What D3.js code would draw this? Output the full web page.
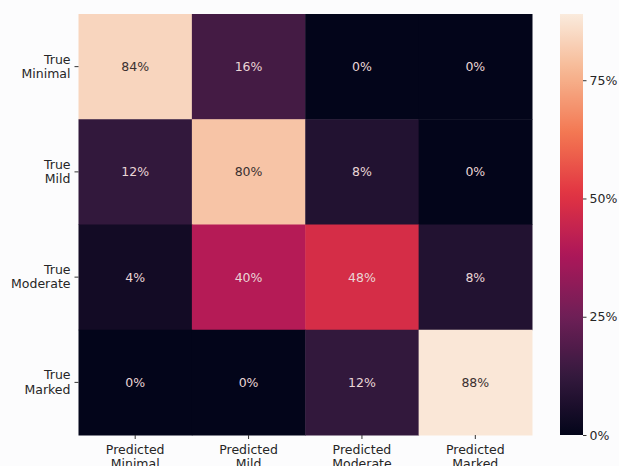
<!DOCTYPE html>
<html>
<head>
<meta charset="utf-8">
<script src="https://cdn.jsdelivr.net/npm/d3@7"></script>
<style>
  html, body { margin: 0; padding: 0; background: #fcfcfd; }
  svg { display: block; }
  text { font-family: "DejaVu Sans", sans-serif; }
</style>
</head>
<body>
<svg id="chart" width="619" height="466"></svg>
<script>
// ---- data ----
const rowLabels = [["True", "Minimal"], ["True", "Mild"], ["True", "Moderate"], ["True", "Marked"]];
const colLabels = [["Predicted", "Minimal"], ["Predicted", "Mild"], ["Predicted", "Moderate"], ["Predicted", "Marked"]];
const rowMinimal  = [0.84, 0.16, 0.00, 0.00];
const rowMild     = [0.12, 0.80, 0.08, 0.00];
const rowModerate = [0.04, 0.40, 0.48, 0.08];
const rowMarked   = [0.00, 0.00, 0.12, 0.88];
const matrix = [rowMinimal, rowMild, rowModerate, rowMarked];
const colorbarTicks = [0, 0.25, 0.5, 0.75];
const colorMax = 0.89;

// rocket colormap samples
const rocketStops = ["#03051a", "#35193e", "#701f57", "#ad1759", "#e13342", "#f37651", "#f6b48f", "#faebdd"];
const rocket = d3.piecewise(d3.interpolateRgb, rocketStops);

const svg = d3.select("#chart");
const mLeft = 78.5, mRight = 532, mTop = 14, mBottom = 435;

const x = d3.scaleBand().domain(d3.range(4)).range([mLeft, mRight]).padding(0);
const y = d3.scaleBand().domain(d3.range(4)).range([mTop, mBottom]).padding(0);
const color = d3.scaleSequential(rocket).domain([0, colorMax]);

const cells = [];
matrix.forEach((row, i) => row.forEach((v, j) => cells.push({i, j, v})));

svg.append("g").selectAll("rect").data(cells).join("rect")
  .attr("x", d => x(d.j)).attr("y", d => y(d.i))
  .attr("width", x.bandwidth() + 0.5).attr("height", y.bandwidth() + 0.5)
  .attr("fill", d => color(d.v));

function lum(c) {
  const r = d3.rgb(c);
  const f = v => { v /= 255; return v <= 0.03928 ? v / 12.92 : Math.pow((v + 0.055) / 1.055, 2.4); };
  return 0.2126 * f(r.r) + 0.7152 * f(r.g) + 0.0722 * f(r.b);
}

svg.append("g").selectAll("text").data(cells).join("text")
  .attr("x", d => x(d.j) + x.bandwidth() / 2)
  .attr("y", d => y(d.i) + y.bandwidth() / 2)
  .attr("text-anchor", "middle").attr("dominant-baseline", "central")
  .attr("font-size", "12.5px")
  .attr("fill", d => lum(color(d.v)) > 0.408 ? "#3a3030" : "#ead6d6")
  .text(d => d3.format(".0%")(d.v));

// y axis
const yAxis = svg.append("g");
rowLabels.forEach((lab, i) => {
  const cy = y(i) + y.bandwidth() / 2;
  yAxis.append("line").attr("x1", mLeft - 4).attr("x2", mLeft).attr("y1", cy).attr("y2", cy)
    .attr("stroke", "#333").attr("stroke-width", 1);
  const t = yAxis.append("text").attr("x", mLeft - 8).attr("y", cy)
    .attr("text-anchor", "end").attr("font-size", "12.5px").attr("fill", "#262626");
  t.append("tspan").attr("x", mLeft - 8).attr("dy", "-0.25em").text(lab[0]);
  t.append("tspan").attr("x", mLeft - 8).attr("dy", "1.15em").text(lab[1]);
});

// x axis
const xAxis = svg.append("g");
colLabels.forEach((lab, j) => {
  const cx = x(j) + x.bandwidth() / 2;
  xAxis.append("line").attr("x1", cx).attr("x2", cx).attr("y1", mBottom).attr("y2", mBottom + 4)
    .attr("stroke", "#333").attr("stroke-width", 1);
  const t = xAxis.append("text").attr("x", cx).attr("y", mBottom + 19)
    .attr("text-anchor", "middle").attr("font-size", "12.5px").attr("fill", "#262626");
  t.append("tspan").attr("x", cx).text(lab[0]);
  t.append("tspan").attr("x", cx).attr("dy", "1.15em").text(lab[1]);
});

// colorbar
const cbX = 560, cbW = 23;
const cbScale = d3.scaleLinear().domain([0, colorMax]).range([mBottom, mTop]);
const defs = svg.append("defs");
const grad = defs.append("linearGradient").attr("id", "cbgrad")
  .attr("x1", 0).attr("y1", 1).attr("x2", 0).attr("y2", 0);
d3.range(0, 1.0001, 0.02).forEach(t => {
  grad.append("stop").attr("offset", t).attr("stop-color", color(t * colorMax));
});
svg.append("rect").attr("x", cbX).attr("y", mTop).attr("width", cbW).attr("height", mBottom - mTop)
  .attr("fill", "url(#cbgrad)");

const cbAxis = d3.axisRight(cbScale).tickValues(colorbarTicks).tickFormat(d3.format(".0%"))
  .tickSize(3.5).tickPadding(3);
const cbg = svg.append("g").attr("transform", `translate(${cbX + cbW},0)`).call(cbAxis);
cbg.select(".domain").remove();
cbg.selectAll("line").attr("stroke", "#333");
cbg.selectAll("text").attr("font-size", "12.5px").attr("fill", "#262626")
  .attr("font-family", "DejaVu Sans, sans-serif");
</script>
</body>
</html>
